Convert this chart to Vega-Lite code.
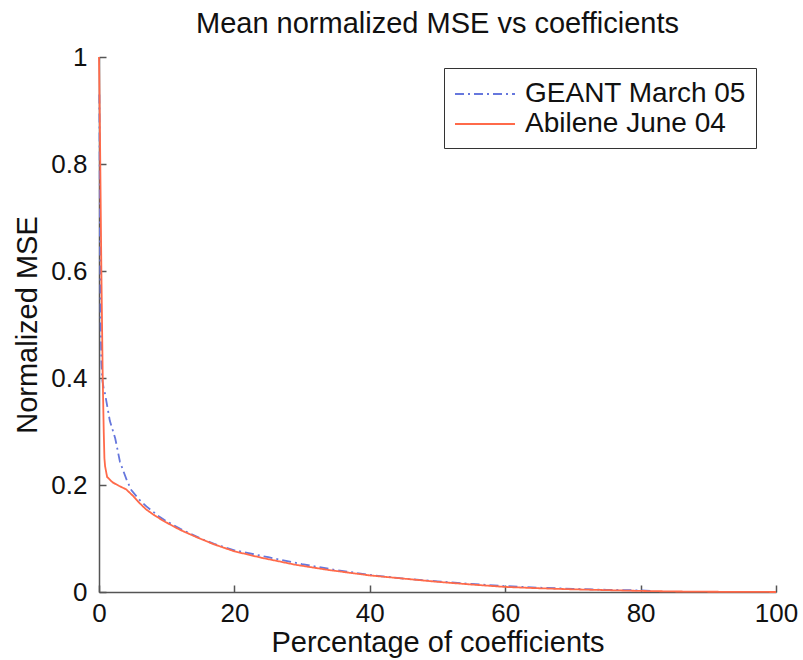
{
  "$schema": "https://vega.github.io/schema/vega-lite/v6.json",
  "width": 677,
  "height": 535,
  "autosize": "none",
  "padding": {"left": 99, "top": 57, "right": 27, "bottom": 68},
  "background": "white",
  "title": {
    "text": "Mean normalized MSE vs coefficients",
    "font": "Liberation Sans",
    "fontSize": 29,
    "fontWeight": "normal",
    "color": "#111",
    "offset": 5,
    "anchor": "middle"
  },
  "config": {
    "view": {"stroke": null},
    "font": "Liberation Sans"
  },
  "data": {
    "values": [
      {"series": "GEANT March 05", "pct": 0.05, "mse": 0.93},
      {"series": "GEANT March 05", "pct": 0.1, "mse": 0.8},
      {"series": "GEANT March 05", "pct": 0.15, "mse": 0.65},
      {"series": "GEANT March 05", "pct": 0.25, "mse": 0.5},
      {"series": "GEANT March 05", "pct": 0.35, "mse": 0.43},
      {"series": "GEANT March 05", "pct": 0.5, "mse": 0.395},
      {"series": "GEANT March 05", "pct": 0.7, "mse": 0.38},
      {"series": "GEANT March 05", "pct": 0.9, "mse": 0.37},
      {"series": "GEANT March 05", "pct": 1.6, "mse": 0.32},
      {"series": "GEANT March 05", "pct": 2.4, "mse": 0.287},
      {"series": "GEANT March 05", "pct": 3.1, "mse": 0.243},
      {"series": "GEANT March 05", "pct": 4.1, "mse": 0.209},
      {"series": "GEANT March 05", "pct": 4.8, "mse": 0.19},
      {"series": "GEANT March 05", "pct": 6.0, "mse": 0.172},
      {"series": "GEANT March 05", "pct": 7.0, "mse": 0.16},
      {"series": "GEANT March 05", "pct": 8.0, "mse": 0.15},
      {"series": "GEANT March 05", "pct": 9.0, "mse": 0.14},
      {"series": "GEANT March 05", "pct": 10, "mse": 0.132},
      {"series": "GEANT March 05", "pct": 12, "mse": 0.118},
      {"series": "GEANT March 05", "pct": 15, "mse": 0.1},
      {"series": "GEANT March 05", "pct": 17, "mse": 0.09},
      {"series": "GEANT March 05", "pct": 20, "mse": 0.078},
      {"series": "GEANT March 05", "pct": 25, "mse": 0.065},
      {"series": "GEANT March 05", "pct": 30, "mse": 0.052},
      {"series": "GEANT March 05", "pct": 35, "mse": 0.041},
      {"series": "GEANT March 05", "pct": 40, "mse": 0.032},
      {"series": "GEANT March 05", "pct": 45, "mse": 0.025},
      {"series": "GEANT March 05", "pct": 50, "mse": 0.02},
      {"series": "GEANT March 05", "pct": 55, "mse": 0.015},
      {"series": "GEANT March 05", "pct": 60, "mse": 0.011},
      {"series": "GEANT March 05", "pct": 65, "mse": 0.008},
      {"series": "GEANT March 05", "pct": 70, "mse": 0.006},
      {"series": "GEANT March 05", "pct": 75, "mse": 0.004},
      {"series": "GEANT March 05", "pct": 80, "mse": 0.003},
      {"series": "GEANT March 05", "pct": 82, "mse": 0.002},
      {"series": "Abilene June 04", "pct": 0, "mse": 1.0},
      {"series": "Abilene June 04", "pct": 0.15, "mse": 0.85},
      {"series": "Abilene June 04", "pct": 0.35, "mse": 0.6},
      {"series": "Abilene June 04", "pct": 0.55, "mse": 0.4},
      {"series": "Abilene June 04", "pct": 0.7, "mse": 0.3},
      {"series": "Abilene June 04", "pct": 0.8, "mse": 0.25},
      {"series": "Abilene June 04", "pct": 0.9, "mse": 0.235},
      {"series": "Abilene June 04", "pct": 1.2, "mse": 0.215},
      {"series": "Abilene June 04", "pct": 2.0, "mse": 0.205},
      {"series": "Abilene June 04", "pct": 3.0, "mse": 0.198},
      {"series": "Abilene June 04", "pct": 4.0, "mse": 0.192},
      {"series": "Abilene June 04", "pct": 5.0, "mse": 0.18},
      {"series": "Abilene June 04", "pct": 6.0, "mse": 0.166},
      {"series": "Abilene June 04", "pct": 7.0, "mse": 0.154},
      {"series": "Abilene June 04", "pct": 8.0, "mse": 0.145},
      {"series": "Abilene June 04", "pct": 9.5, "mse": 0.133},
      {"series": "Abilene June 04", "pct": 12, "mse": 0.116},
      {"series": "Abilene June 04", "pct": 14.5, "mse": 0.102},
      {"series": "Abilene June 04", "pct": 17, "mse": 0.089},
      {"series": "Abilene June 04", "pct": 20, "mse": 0.076},
      {"series": "Abilene June 04", "pct": 24, "mse": 0.064},
      {"series": "Abilene June 04", "pct": 29, "mse": 0.051},
      {"series": "Abilene June 04", "pct": 34, "mse": 0.041},
      {"series": "Abilene June 04", "pct": 40, "mse": 0.031},
      {"series": "Abilene June 04", "pct": 45, "mse": 0.025},
      {"series": "Abilene June 04", "pct": 50, "mse": 0.019},
      {"series": "Abilene June 04", "pct": 55, "mse": 0.014},
      {"series": "Abilene June 04", "pct": 60, "mse": 0.0095},
      {"series": "Abilene June 04", "pct": 65, "mse": 0.007},
      {"series": "Abilene June 04", "pct": 70, "mse": 0.005},
      {"series": "Abilene June 04", "pct": 75, "mse": 0.0035},
      {"series": "Abilene June 04", "pct": 80, "mse": 0.002},
      {"series": "Abilene June 04", "pct": 85, "mse": 0.001},
      {"series": "Abilene June 04", "pct": 90, "mse": 0.0005},
      {"series": "Abilene June 04", "pct": 100, "mse": 0}
    ]
  },
  "mark": {"type": "line", "strokeWidth": 1.8},
  "encoding": {
    "x": {
      "field": "pct",
      "type": "quantitative",
      "scale": {"domain": [0, 100], "nice": false},
      "axis": {
        "title": "Percentage of coefficients",
        "titleFont": "Liberation Sans",
        "titleFontSize": 29,
        "titleFontWeight": "normal",
        "titleColor": "#111",
        "titlePadding": 2,
        "values": [0, 20, 40, 60, 80, 100],
        "labelFont": "Liberation Sans",
        "labelFontSize": 26,
        "labelColor": "#111",
        "labelPadding": 15,
        "labelFlush": false,
        "grid": false,
        "domainColor": "#555",
        "domainWidth": 1.5,
        "tickColor": "#555",
        "tickSize": -7,
        "tickWidth": 1.5
      }
    },
    "y": {
      "field": "mse",
      "type": "quantitative",
      "scale": {"domain": [0, 1], "nice": false},
      "axis": {
        "title": "Normalized MSE",
        "titleFont": "Liberation Sans",
        "titleFontSize": 29,
        "titleFontWeight": "normal",
        "titleColor": "#111",
        "titlePadding": 8,
        "values": [0, 0.2, 0.4, 0.6, 0.8, 1],
        "format": "~g",
        "labelFont": "Liberation Sans",
        "labelFontSize": 26,
        "labelColor": "#111",
        "labelPadding": 19,
        "labelFlush": false,
        "grid": false,
        "domainColor": "#555",
        "domainWidth": 1.5,
        "tickColor": "#555",
        "tickSize": -7,
        "tickWidth": 1.5
      }
    },
    "color": {
      "field": "series",
      "type": "nominal",
      "scale": {"domain": ["GEANT March 05", "Abilene June 04"], "range": ["#6677dd", "#ff6a4a"]},
      "legend": {
        "title": null,
        "orient": "none",
        "legendX": 345,
        "legendY": 11,
        "direction": "vertical",
        "symbolType": "M-1,0L3,0",
        "symbolSize": 900,
        "symbolStrokeWidth": 1.8,
        "labelFont": "Liberation Sans",
        "labelFontSize": 28,
        "labelColor": "#111",
        "labelOffset": 39,
        "labelLimit": 0,
        "strokeColor": "#333",
        "fillColor": "white",
        "padding": 10,
        "rowPadding": 0
      }
    },
    "strokeDash": {
      "field": "series",
      "type": "nominal",
      "scale": {"domain": ["GEANT March 05", "Abilene June 04"], "range": [[9, 4, 2, 4], [1, 0]]},
      "legend": null
    }
  }
}
